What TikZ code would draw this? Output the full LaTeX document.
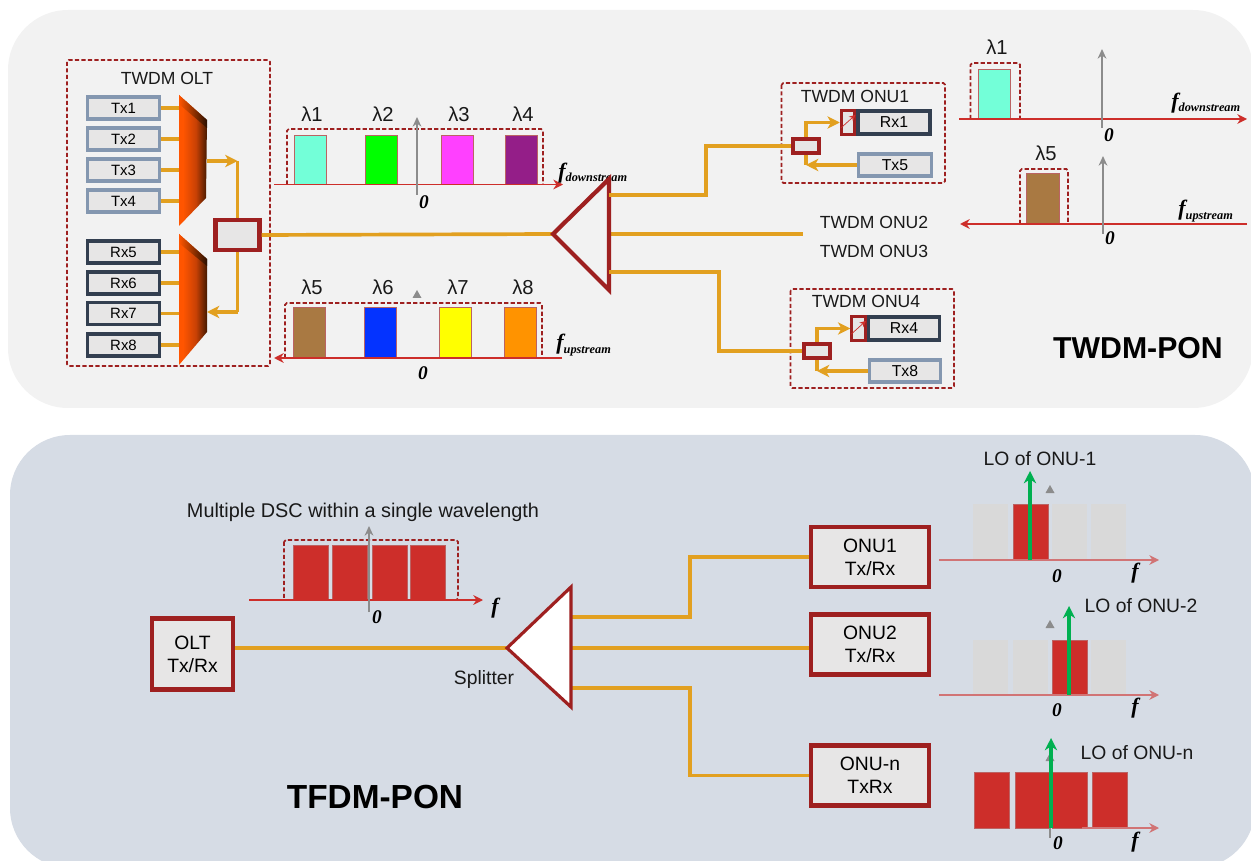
\documentclass[tikz,border=0pt]{standalone}
\usepackage{xcolor}
\usepackage{fontspec}
\setmainfont{Liberation Sans}
\newfontfamily\axisfont{Liberation Serif}
\definecolor{panelgray}{RGB}{242,242,242}
\definecolor{panelblue}{RGB}{214,220,229}
\definecolor{fibercol}{RGB}{226,160,32}
\definecolor{darkred}{RGB}{158,32,32}
\definecolor{specred}{RGB}{205,46,42}
\definecolor{boxgray}{RGB}{231,230,230}
\definecolor{txblue}{RGB}{132,151,176}
\definecolor{rxdark}{RGB}{51,63,80}
\definecolor{axisgray}{RGB}{140,140,140}
\definecolor{locol}{RGB}{0,176,80}
\definecolor{muxorange}{RGB}{255,85,0}
\definecolor{muxmid}{RGB}{200,65,5}
\definecolor{muxdark}{RGB}{70,25,0}
\definecolor{offband}{RGB}{217,217,217}
\definecolor{cAqua}{RGB}{115,255,216}
\definecolor{cGreen}{RGB}{0,255,0}
\definecolor{cPink}{RGB}{255,64,255}
\definecolor{cPurple}{RGB}{148,30,136}
\definecolor{cBrown}{RGB}{169,121,66}
\definecolor{cBlue}{RGB}{4,51,255}
\definecolor{cYellow}{RGB}{255,255,0}
\definecolor{cOrange}{RGB}{255,147,0}
\usepackage{tikz}
\usetikzlibrary{arrows.meta,positioning,calc}
\pgfdeclarehorizontalshading{muxshade}{100bp}{color(0bp)=(muxorange); color(32bp)=(muxorange); color(55bp)=(muxmid); color(75bp)=(muxdark); color(100bp)=(muxdark)}
\tikzset{
    txbox/.style={draw=txblue,fill=boxgray,line width=1.8pt,minimum width=1.44cm,minimum height=0.44cm,inner sep=0pt,font=\fontsize{8.5}{10}\selectfont},
    rxbox/.style={txbox,draw=rxdark},
    redbox/.style={draw=darkred,fill=boxgray,line width=2.3pt,inner sep=0pt,align=center,font=\fontsize{11}{13}\selectfont},
    tunebox/.style={draw=darkred,fill=boxgray,line width=1.8pt,inner sep=0pt,minimum width=0.27cm,minimum height=0.48cm},
    fiber/.style={draw=fibercol,line width=2.1pt},
    fiberarrow/.style={fiber,-{Stealth[length=7pt,width=7pt,inset=2pt]}},
    dashbox/.style={draw=darkred,line width=1pt,dashed,dash pattern=on 2.4pt off 1.3pt,rounded corners=1pt},
    specaxis/.style={draw=specred,line width=1pt,-{Stealth[length=5.5pt,width=5.5pt]}},
    paleaxis/.style={specaxis,draw=specred!60!panelblue},
    zeroaxis/.style={draw=axisgray,line width=0.8pt,-{Stealth[length=5.5pt,width=5pt]}},
    loarrow/.style={draw=locol,line width=1.8pt,-{Stealth[length=7pt,width=7pt]}},
    band/.style={draw=darkred!70,line width=0.4pt},
    label/.style={font=\fontsize{10}{12}\selectfont,text=black!90},
    lolabel/.style={font=\fontsize{11}{13}\selectfont,text=black!90},
    lamlabel/.style={font=\fontsize{11.5}{13}\selectfont,text=black!90},
    bigtitle/.style={font=\fontsize{19}{20}\selectfont\bfseries,text=black},
    zerolabel/.style={font=\fontsize{11}{12}\axisfont\bfseries\itshape},
    flabel/.style={anchor=west,inner sep=0pt,font=\fontsize{12.5}{14}\axisfont\bfseries\itshape},
}
\newcommand{\flab}[1]{f\raisebox{-0.35ex}{\fontsize{7}{8}\selectfont #1}}
\begin{document}
\begin{tikzpicture}[x=0.02cm,y=-0.02cm]
    \path[use as bounding box,clip] (0,0) rectangle (1251,861);
    \fill[panelgray,rounded corners=1.2cm] (8,10) rectangle (1253,408);
    \fill[panelblue,rounded corners=1.2cm] (10,435) rectangle (1255,868);

    % OLT side
    \draw[dashbox] (67,60) rectangle (270,366);
    \node[label] (olttitle) at (167,78) {TWDM OLT};
    \foreach \i/\y in {1/108,2/139,3/170,4/201}
        \node[txbox] (tx\i) at (123.5,\y) {Tx\i};
    \foreach \i/\y in {5/252,6/283,7/313.5,8/345}
        \node[rxbox] (rx\i) at (123.5,\y) {Rx\i};
    \coordinate (muxa) at (179,161);
    \coordinate (muxb) at (207,161);
    \coordinate (muxc) at (179,312);
    \coordinate (muxd) at (207,312);
    \foreach \i in {1,2,3,4}
        \draw[fiber,line width=1.9pt] (tx\i.east) -- (tx\i.east -| muxa);
    \foreach \i in {5,6,7,8}
        \draw[fiber,line width=1.9pt] (rx\i.east) -- (rx\i.east -| muxc);
    \shade[shading=muxshade] (179,95) -- (207,120) -- (206,198) -- (179,226) -- cycle;
    \shade[left color=muxorange,right color=muxdark!60!black] (179,95) -- (207,120) -- (207,128) -- (179,104) -- cycle;
    \shade[shading=muxshade] (179,234) -- (207,259) -- (207,332) -- (179,365) -- cycle;
    \shade[left color=muxorange,right color=muxdark!60!black] (179,234) -- (207,259) -- (207,266) -- (179,243) -- cycle;
    \node[redbox,minimum width=0.88cm,minimum height=0.6cm] (olt1) at (237.5,235) {};
    \coordinate (oltup) at (olt1.north |- muxb);
    \coordinate (oltdown) at (olt1.south |- muxd);
    \draw[fiber] (olt1.north) -- (oltup);
    \draw[fiberarrow] (muxb) -- (oltup);
    \draw[fiber] (olt1.south) -- (oltdown);
    \draw[fiberarrow] (oltdown) -- (muxd);

    % downstream and upstream spectrum
    \foreach \x/\c/\n in {294/cAqua/1,365/cGreen/2,441/cPink/3,505/cPurple/4}{
        \draw[band,fill=\c] (\x,135) rectangle ++(32,49.5);
        \node[lamlabel] (lam\n) at (\x+18,114) {λ\n};
    }
    \foreach \x/\c/\n in {293/cBrown/5,364/cBlue/6,439/cYellow/7,504/cOrange/8}{
        \draw[band,fill=\c] (\x,307) rectangle ++(32,51);
        \node[lamlabel] (lam\n) at (\x+19,287) {λ\n};
    }
    \draw[dashbox] (287,184.5) -- (287,129) -- (543,129) -- (543,184.5);
    \draw[dashbox] (285,358) -- (285,303) -- (542,303) -- (542,358);
    \draw[specaxis] (274,184.5) -- (563,184.5);
    \draw[specaxis] (562,358) -- (274,358);
    \draw[zeroaxis] (417,195) -- (417,117);
    \node[zerolabel] (zero1) at (424,202) {0};
    \node[zerolabel] (zero2) at (423,373) {0};
    \node[flabel] (fdown1) at (558,173) {\flab{downstream}};
    \node[flabel] (fup1) at (556,345) {\flab{upstream}};

    % splitter of the upper panel
    \coordinate (spl1tip) at (553,234);
    \coordinate (spl1a) at (609,195);
    \coordinate (spl1b) at (609,234);
    \coordinate (spl1c) at (609,272);
    \coordinate (onu2end) at (803,234);
    \draw[fiber] (olt1.east) -- (spl1tip);
    \draw[fiber] (spl1b) -- (onu2end);
    \draw[draw=darkred,line width=2.4pt,line join=miter] (spl1tip) -- (609,179) -- (609,290) -- cycle;
    \node[label] (onu2) at (874,222) {TWDM ONU2};
    \node[label] (onu3) at (874,251) {TWDM ONU3};

    % ONU1
    \draw[dashbox] (781.5,83) rectangle (945,183);
    \node[label] (onu1title) at (855,96) {TWDM ONU1};
    \node[rxbox,minimum width=1.44cm,minimum height=0.46cm,font=\fontsize{9}{10}\selectfont] (rx1) at (894,122.5) {Rx1};
    \node[tunebox,anchor=east] (tune1) at (rx1.west) {};
    \node[txbox,minimum width=1.46cm,minimum height=0.44cm,font=\fontsize{9}{10}\selectfont] (tx5) at (895,165) {Tx5};
    \node[redbox,minimum width=0.52cm,minimum height=0.28cm] (cpl1) at (806,146) {};
    \draw[fiber] (spl1a) -| ($(spl1a)+(97,0)$) |- (cpl1.west);
    \draw[fiberarrow] (cpl1.north) |- (tune1.west);
    \draw[fiber] (cpl1.south) -- (tx5.west -| cpl1.south);
    \draw[fiberarrow] (tx5.west) -- (tx5.west -| cpl1.south);
    \draw[-{Stealth[length=3.5pt,width=3.5pt]},draw=specred,line width=0.4pt] (tune1.south west) ++(1,-8) -- ($(tune1.north east)+(-1,6)$);

    % ONU4
    \draw[dashbox] (790.5,289) rectangle (954,388);
    \node[label] (onu4title) at (866,301) {TWDM ONU4};
    \node[rxbox,minimum width=1.42cm,minimum height=0.46cm,font=\fontsize{9}{10}\selectfont] (rx4) at (904,328.5) {Rx4};
    \node[tunebox,anchor=east] (tune4) at (rx4.west) {};
    \node[txbox,minimum width=1.42cm,minimum height=0.44cm,font=\fontsize{9}{10}\selectfont] (tx8) at (905,371) {Tx8};
    \node[redbox,minimum width=0.52cm,minimum height=0.28cm] (cpl4) at (817,351) {};
    \draw[fiber] (spl1c) -| ($(spl1c)+(110,0)$) |- (cpl4.west);
    \draw[fiberarrow] (cpl4.north) |- (tune4.west);
    \draw[fiber] (cpl4.south) -- (tx8.west -| cpl4.south);
    \draw[fiberarrow] (tx8.west) -- (tx8.west -| cpl4.south);
    \draw[-{Stealth[length=3.5pt,width=3.5pt]},draw=specred,line width=0.4pt] (tune4.south west) ++(1,-8) -- ($(tune4.north east)+(-1,6)$);

    % spectrum beside the ONUs
    \draw[band,fill=cAqua] (978,69) rectangle (1010,119);
    \draw[dashbox] (970.5,119) -- (970.5,63) -- (1020,63) -- (1020,119);
    \node[lamlabel] (lamr1) at (997,47) {λ1};
    \draw[specaxis] (959,119) -- (1247,119);
    \draw[zeroaxis] (1102,128) -- (1102,49);
    \node[zerolabel] (zero3) at (1109,135) {0};
    \node[flabel] (fdown2) at (1171,103) {\flab{downstream}};
    \draw[band,fill=cBrown] (1026,173) rectangle (1059,224);
    \draw[dashbox] (1020,224) -- (1020,169) -- (1068,169) -- (1068,224);
    \node[lamlabel] (lamr5) at (1046,153) {λ5};
    \draw[specaxis] (1247,224) -- (960,224);
    \draw[zeroaxis] (1103,234) -- (1103,156);
    \node[zerolabel] (zero4) at (1110,238) {0};
    \node[flabel] (fup2) at (1178,211) {\flab{upstream}};
    \node[bigtitle,font=\fontsize{17.2}{20}\selectfont\bfseries] (twdm) at (1138,348) {TWDM-PON};

    % lower panel
    \node[redbox,minimum width=1.62cm,minimum height=1.42cm] (olt2) at (192.5,654) {OLT\\Tx/Rx};
    \node[lolabel,font=\fontsize{11.3}{13}\selectfont] (dsc) at (363,512) {Multiple DSC within a single wavelength};
    \foreach \x in {293,332,372,410}
        \draw[band,fill=specred] (\x,545) rectangle ++(35,55);
    \draw[dashbox] (284,540) rectangle (458,600);
    \draw[specaxis] (249,600) -- (483,600);
    \draw[zeroaxis] (369,612) -- (369,526);
    \node[zerolabel] (zero5) at (377,617) {0};
    \node[flabel] (fdsc) at (491,608) {f};

    \coordinate (spl2tip) at (507,648);
    \coordinate (spl2a) at (571,617);
    \coordinate (spl2b) at (571,648);
    \coordinate (spl2c) at (571,688);
    \node[redbox,minimum width=2.36cm,minimum height=1.2cm] (onu21) at (870,557) {ONU1\\Tx/Rx};
    \node[redbox,minimum width=2.36cm,minimum height=1.2cm] (onu22) at (870,644.5) {ONU2\\Tx/Rx};
    \node[redbox,minimum width=2.36cm,minimum height=1.2cm] (onu2n) at (870,775.5) {ONU-n\\TxRx};
    \draw[fiber] (olt2.east |- spl2tip) -- (spl2tip);
    \draw[fiber] (spl2a) -- ($(spl2a)+(119,0)$) |- (onu21.west);
    \draw[fiber] (spl2b) -- (onu22.west |- spl2b);
    \draw[fiber] (spl2c) -- ($(spl2c)+(119,0)$) |- (onu2n.west);
    \draw[draw=darkred,fill=white,line width=1.8pt] (spl2tip) -- (571,587) -- (571,707) -- cycle;
    \node[lolabel] (splitter) at (484,680) {Splitter};
    \node[bigtitle] (tfdm) at (375,797) {TFDM-PON};

    % ONU spectrum, first and second
    \foreach \x/\c in {973/offband,1013/specred,1052/offband,1091/offband}
        \fill[\c] (\x,504) rectangle ++(35,56);
    \draw[band] (1013,504) rectangle ++(35,56);
    \foreach \x/\c in {973/offband,1013/offband,1052/specred,1091/offband}
        \fill[\c] (\x,640) rectangle ++(35,55);
    \draw[band] (1052,640) rectangle ++(35,55);
    \draw[paleaxis] (939,560) -- (1159,560);
    \draw[paleaxis] (939,695) -- (1159,695);
    \foreach \x in {974,1015,1052,1092}
        \draw[band,fill=specred] (\x,772) rectangle ++(35,56);
    \draw[paleaxis] (1082,828) -- (1159,828);
    \draw[axisgray,line width=0.7pt] (1050,828) -- (1050,838);
    \foreach \x/\y in {417/294,1050/489,1050/624,1050/757}
        \fill[axisgray,shift={(\x,\y)}] (-4.5,4) -- (0,-4) -- (4.5,4) -- cycle;
    \draw[loarrow] (1030,560) -- (1030,471);
    \draw[loarrow] (1069,695) -- (1069,606);
    \draw[loarrow] (1051,828) -- (1051,738);
    \node[lolabel] (lo1) at (1040,459) {LO of ONU-1};
    \node[lolabel] (lo2) at (1141,606) {LO of ONU-2};
    \node[lolabel] (lon) at (1137,753) {LO of ONU-n};
    \node[zerolabel] (zero6) at (1057,576) {0};
    \node[zerolabel] (zero7) at (1057,710) {0};
    \node[zerolabel] (zero8) at (1058,843) {0};
    \node[flabel] (f1) at (1131,573) {f};
    \node[flabel] (f2) at (1131,708) {f};
    \node[flabel] (f3) at (1131,842) {f};
\end{tikzpicture}
\end{document}
